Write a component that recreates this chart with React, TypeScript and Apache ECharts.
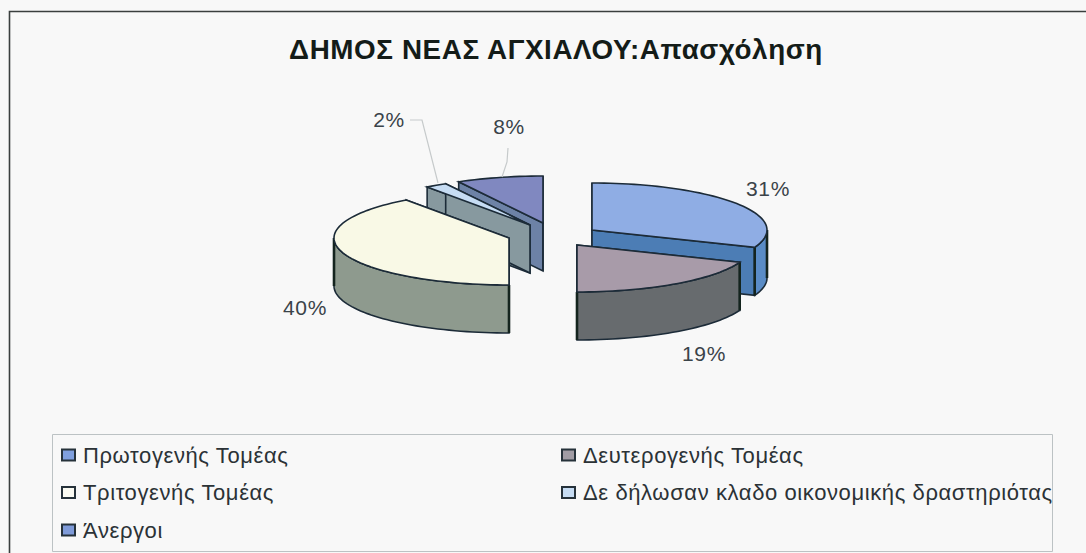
import React, { useEffect, useRef } from "react";
import * as echarts from "echarts";

const titleText = "ΔΗΜΟΣ ΝΕΑΣ ΑΓΧΙΑΛΟΥ:Απασχόληση";
const sectors = [
  "Πρωτογενής Τομέας",
  "Δευτερογενής Τομέας",
  "Τριτογενής Τομέας",
  "Δε δήλωσαν κλαδο οικονομικής δραστηριότας",
  "Άνεργοι",
];
const shares = [31, 19, 40, 2, 8];

const topColors = ["#8fade4", "#a89ba9", "#f9f9e6", "#c6dcf3", "#8088c0"];
const wallColors = ["#5a8cc6", "#676b6e", "#8e9a8e", "#87999f", "#6d82a6"];
const faceColors = ["#4c7db5", "#676b6e", "#14241e", "#87999f", "#6d82a6"];
const swatchColors = ["#7f9fde", "#a19ca4", "#fafaf2", "#c6dcf3", "#7f9bd9"];

// Exploded position of every slice's apex, and the order slices are painted in.
const apexes = [[592, 230], [577, 245], [509, 238], [530, 225], [543, 223]];
const paintOrder = [4, 3, 2, 0, 1];
const labelSpots = [[768, 188], [704, 353], [305, 307], [389, 119], [509, 126]];
const leaders: Record<number, number[][]> = {
  3: [[410, 120], [422, 120], [438, 183]],
  4: [[508, 148], [507, 162], [502, 177]],
};

const RX = 175;
const RY = 47;
const DEPTH = 48;
const EDGE = "#1c2b38";

const total = shares.reduce((a, b) => a + b, 0);

function sliceAngles(i: number) {
  const before = shares.slice(0, i).reduce((a, b) => a + b, 0);
  return [(before / total) * 360, ((before + shares[i]) / total) * 360];
}

function rimPoint(c: number[], deg: number, drop = 0) {
  const r = (deg * Math.PI) / 180;
  return [c[0] + RX * Math.sin(r), c[1] - RY * Math.cos(r) + drop];
}

function arcPoints(c: number[], from: number, to: number, drop = 0) {
  const pts: number[][] = [];
  const steps = Math.max(2, Math.ceil((to - from) / 2));
  for (let k = 0; k <= steps; k++) pts.push(rimPoint(c, from + ((to - from) * k) / steps, drop));
  return pts;
}

function cutFace(c: number[], deg: number, fill: string, z2: number) {
  const rim = rimPoint(c, deg);
  return {
    type: "polygon",
    z2,
    shape: { points: [c, rim, [rim[0], rim[1] + DEPTH], [c[0], c[1] + DEPTH]] },
    style: { fill, stroke: EDGE, lineWidth: 1.6 },
  };
}

function cornerLine(c: number[], deg: number, z2: number) {
  const rim = rimPoint(c, deg);
  return {
    type: "line",
    z2,
    shape: { x1: rim[0], y1: rim[1], x2: rim[0], y2: rim[1] + DEPTH },
    style: { stroke: "#14241e", lineWidth: 2.6 },
  };
}

function renderSlice(i: number) {
  const c = apexes[i];
  const [start, end] = sliceAngles(i);
  const base = paintOrder.indexOf(i) * 10;
  const children: any[] = [
    cutFace(c, start, faceColors[i], base + 1),
    cutFace(c, end, faceColors[i], base + 2),
  ];
  // Only the near half of the rim shows an outer wall.
  const wallFrom = Math.max(start, 90);
  const wallTo = Math.min(end, 270);
  if (wallTo > wallFrom) {
    children.push({
      type: "polygon",
      z2: base + 3,
      shape: {
        points: [
          ...arcPoints(c, wallFrom, wallTo),
          ...arcPoints(c, wallFrom, wallTo, DEPTH).reverse(),
        ],
      },
      style: { fill: wallColors[i], stroke: EDGE, lineWidth: 1.6 },
    });
    children.push(cornerLine(c, wallFrom, base + 4), cornerLine(c, wallTo, base + 4));
  }
  children.push({
    type: "polygon",
    z2: base + 5,
    shape: { points: [c, ...arcPoints(c, start, end)] },
    style: { fill: topColors[i], stroke: EDGE, lineWidth: 1.6 },
  });
  if (leaders[i]) {
    children.push({
      type: "polyline",
      z2: 90,
      shape: { points: leaders[i] },
      style: { fill: "none", stroke: "#c6cacb", lineWidth: 1.2 },
    });
  }
  children.push({
    type: "text",
    z2: 100,
    style: {
      x: labelSpots[i][0],
      y: labelSpots[i][1],
      text: `${shares[i]}%`,
      fill: "#3a4349",
      font: '21px "Liberation Sans"',
      align: "center",
      verticalAlign: "middle",
    },
  });
  return { type: "group", children };
}

function legendColumn(left: number, members: number[]) {
  return {
    orient: "vertical" as const,
    left,
    top: 439,
    itemGap: 15.5,
    itemWidth: 13,
    itemHeight: 11,
    icon: "rect",
    selectedMode: false,
    textStyle: {
      fontFamily: "Liberation Sans",
      fontSize: 22,
      color: "#2b3236",
      padding: [0, 0, 0, 3],
    },
    data: members.map((m) => ({
      name: sectors[m],
      itemStyle: { color: swatchColors[m], borderColor: "#26323a", borderWidth: 2 },
    })),
  };
}

export default function App() {
  const ref = useRef<HTMLDivElement>(null);

  useEffect(() => {
    const chart = echarts.init(ref.current!, null, { renderer: "svg" });
    chart.setOption({
      animation: false,
      backgroundColor: "#f8f8f8",
      title: {
        text: titleText,
        left: 551,
        top: 30,
        textAlign: "center",
        textStyle: {
          fontFamily: "Liberation Sans",
          fontWeight: "bold",
          fontSize: 27.8,
          color: "#141c18",
        },
      },
      legend: [legendColumn(56, [0, 2, 4]), legendColumn(556, [1, 3])],
      graphic: [
        {
          type: "rect",
          silent: true,
          z: -1,
          shape: { x: 9.5, y: 11.5, width: 1100, height: 560 },
          style: { fill: "none", stroke: "#3a3f3e", lineWidth: 1.6 },
        },
        {
          type: "rect",
          silent: true,
          z: -1,
          shape: { x: 52.5, y: 434.5, width: 1000, height: 117 },
          style: { fill: "none", stroke: "#bcc2c4", lineWidth: 1 },
        },
      ],
      series: sectors.map((name, i) => ({
        type: "custom",
        name,
        coordinateSystem: "none",
        itemStyle: { color: swatchColors[i] },
        data: [shares[i]],
        renderItem: () => renderSlice(i),
      })),
    });
    return () => chart.dispose();
  }, []);

  return (
    <div
      ref={ref}
      style={{ position: "fixed", left: 0, top: 0, width: 1086, height: 553, letterSpacing: "0.6px" }}
    />
  );
}
